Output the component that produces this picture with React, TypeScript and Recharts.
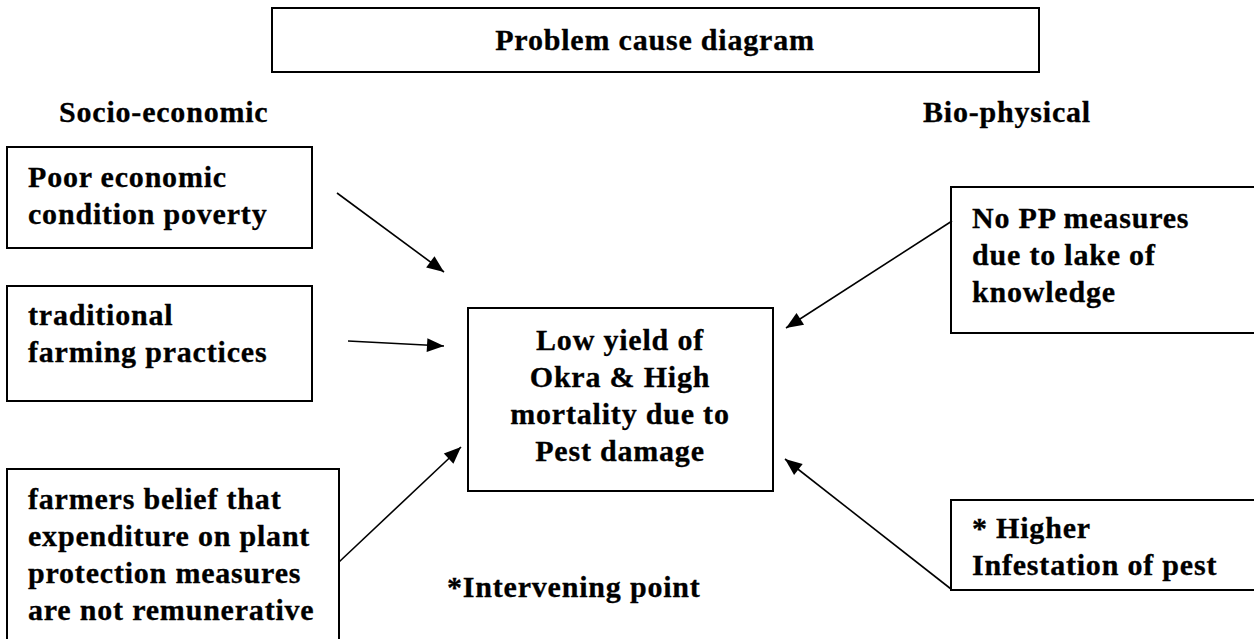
import { ReferenceArea, Scatter, ScatterChart, XAxis, YAxis } from "recharts";

// diagram space = page pixels (1254 x 639), y grows downward
const boxX1 = [272, 7, 7, 7, 468, 951, 951];
const boxX2 = [1039, 312, 312, 339, 773, 1262, 1262];
const boxY1 = [8, 147, 286, 469, 308, 187, 500];
const boxY2 = [72, 248, 401, 650, 491, 333, 590];

const labelLines = [
  ["Problem cause diagram"],
  ["Socio-economic"],
  ["Bio-physical"],
  ["Poor economic", "condition poverty"],
  ["traditional", "farming practices"],
  ["farmers belief that", "expenditure on plant", "protection measures", "are not remunerative"],
  ["Low yield of", "Okra & High", "mortality due to", "Pest damage"],
  ["No PP measures", "due to lake of", "knowledge"],
  ["* Higher", "Infestation of pest"],
  ["*Intervening point"],
];
const labelX = [655, 59, 923, 28, 28, 28, 620, 972, 972, 447];
const labelY = [50, 122, 122, 187, 325, 509, 350, 228, 538, 597];
const labelCentered = [true, false, false, false, false, false, true, false, false, false];

const arrowFromX = [337, 348, 339, 952, 951];
const arrowFromY = [193, 341, 562, 221, 589];
const arrowToX = [444, 444, 461, 786, 785];
const arrowToY = [272, 346, 447, 328, 459];

const labels = labelLines.map((lines, i) => ({
  x: labelX[i],
  y: labelY[i],
  lines,
  centered: labelCentered[i],
}));

const arrows = arrowFromX.map((fx, i) => [
  { x: fx, y: arrowFromY[i], head: false, dx: 0, dy: 0 },
  {
    x: arrowToX[i],
    y: arrowToY[i],
    head: true,
    dx: arrowToX[i] - fx,
    dy: arrowToY[i] - arrowFromY[i],
  },
]);

const FONT = "'Liberation Serif', 'Times New Roman', serif";

const LabelShape = (props: any) => {
  const { cx, cy, payload } = props;
  return (
    <text
      x={cx}
      y={cy}
      textAnchor={payload.centered ? "middle" : "start"}
      fontFamily={FONT}
      fontWeight={700}
      fontSize={30}
      letterSpacing={0.8}
      fill="#000"
      stroke="#000"
      strokeWidth={0.3}
    >
      {payload.lines.map((line: string, i: number) => (
        <tspan key={i} x={cx} dy={i === 0 ? 0 : 37}>
          {line}
        </tspan>
      ))}
    </text>
  );
};

const ArrowHead = (props: any) => {
  const { cx, cy, payload } = props;
  if (!payload.head) return <g />;
  const a = Math.atan2(payload.dy, payload.dx);
  const len = 17;
  const half = 7;
  const bx = cx - len * Math.cos(a);
  const by = cy - len * Math.sin(a);
  const px = -Math.sin(a) * half;
  const py = Math.cos(a) * half;
  return (
    <polygon
      points={`${cx},${cy} ${bx + px},${by + py} ${bx - px},${by - py}`}
      fill="#000"
    />
  );
};

export default function App() {
  return (
    <div style={{ position: "absolute", left: 0, top: 0, background: "#fff" }}>
      <ScatterChart width={1254} height={639} margin={{ top: 0, right: 0, bottom: 0, left: 0 }}>
        <XAxis type="number" dataKey="x" domain={[0, 1254]} allowDataOverflow hide />
        <YAxis type="number" dataKey="y" domain={[0, 639]} allowDataOverflow reversed hide />
        {boxX1.map((x1, i) => (
          <ReferenceArea
            key={i}
            x1={x1}
            x2={boxX2[i]}
            y1={boxY1[i]}
            y2={boxY2[i]}
            fill="none"
            stroke="#000"
            strokeWidth={2}
            ifOverflow="visible"
          />
        ))}
        {arrows.map((pts, i) => (
          <Scatter
            key={i}
            data={pts}
            line={{ stroke: "#000", strokeWidth: 1.6 }}
            lineType="joint"
            shape={ArrowHead}
            isAnimationActive={false}
          />
        ))}
        <Scatter data={labels} shape={LabelShape} isAnimationActive={false} />
      </ScatterChart>
    </div>
  );
}
